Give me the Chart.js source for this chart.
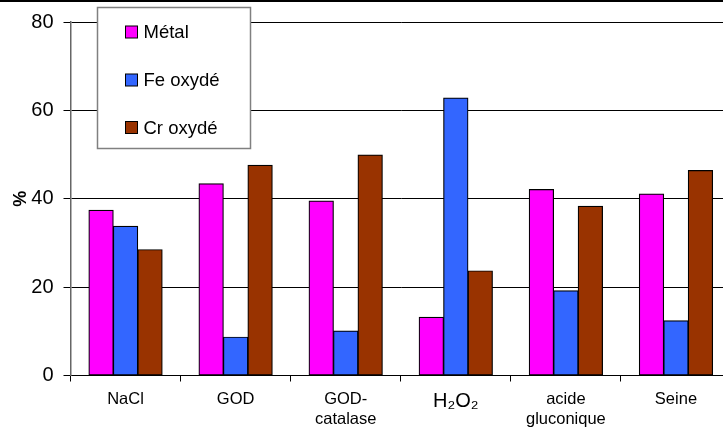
<!DOCTYPE html>
<html>
<head>
<meta charset="utf-8">
<script src="https://cdn.jsdelivr.net/npm/chart.js@4/dist/chart.umd.min.js"></script>
<style>
  html, body { margin: 0; padding: 0; background: #fff; overflow: hidden; width: 723px; height: 427px; }
  #wrap { position: relative; width: 723px; height: 427px; overflow: hidden; }
  #topline { position: absolute; left: 0; top: 0; width: 723px; height: 2px; background: #000; z-index: 2; }
  canvas { position: absolute; left: 0; top: 0; }
</style>
</head>
<body>
<div id="wrap">
  <div id="topline"></div>
  <canvas id="c" width="731" height="427"></canvas>
</div>
<script>
const categories = ["NaCl", "GOD", ["GOD-", "catalase"], "H₂O₂", ["acide", "gluconique"], "Seine"];
const seriesNames = ["Métal", "Fe oxydé", "Cr oxydé"];
const metal = [37.4, 43.4, 39.5, 13.2, 42.1, 41.1];
const feOxyde = [33.8, 8.7, 10.1, 62.8, 19.2, 12.4];
const crOxyde = [28.5, 47.6, 49.9, 23.7, 38.3, 46.4];
const yTicks = [0, 20, 40, 60, 80];
const colors = ["#FF00FF", "#3366FF", "#993300"];

const FONT = "Arial, 'Liberation Sans', sans-serif";

const legendBox = {
  id: 'legendBox',
  afterDraw(chart) {
    const ctx = chart.ctx;
    ctx.save();
    ctx.fillStyle = '#fff';
    ctx.fillRect(97.5, 7.5, 153, 141);
    ctx.strokeStyle = '#808080';
    ctx.lineWidth = 1.5;
    ctx.strokeRect(97.5, 7.5, 153, 141);
    const ys = [32, 80, 127.5];
    chart.data.datasets.forEach((ds, i) => {
      ctx.fillStyle = ds.backgroundColor;
      ctx.fillRect(125.5, ys[i] - 6, 12, 12);
      ctx.strokeStyle = '#000';
      ctx.lineWidth = 1;
      ctx.strokeRect(125.5, ys[i] - 6, 12, 12);
      ctx.fillStyle = '#000';
      ctx.font = "18.5px " + FONT;
      ctx.textBaseline = 'middle';
      ctx.textAlign = 'left';
      ctx.fillText(ds.label, 143.5, ys[i] + 1);
    });
    ctx.restore();
  }
};

new Chart(document.getElementById('c'), {
  type: 'bar',
  data: {
    labels: categories,
    datasets: [
      { label: seriesNames[0], data: metal, backgroundColor: colors[0] },
      { label: seriesNames[1], data: feOxyde, backgroundColor: colors[1] },
      { label: seriesNames[2], data: crOxyde, backgroundColor: colors[2] }
    ].map(d => Object.assign(d, { borderColor: '#000', borderWidth: 1.2, borderSkipped: false, inflateAmount: 0.4, categoryPercentage: 0.667, barPercentage: 1.0 }))
  },
  options: {
    responsive: false,
    animation: false,
    events: [],
    layout: { padding: { left: 0, right: 0, top: 22, bottom: 0 } },
    plugins: { legend: { display: false }, tooltip: { enabled: false } },
    scales: {
      x: {
        grid: { offset: true, drawOnChartArea: false, drawTicks: true, tickLength: 6, tickColor: '#000', lineWidth: 1 },
        border: { color: '#000', width: 1 },
        ticks: {
          color: '#000',
          padding: 8,
          maxRotation: 0,
          autoSkip: false,
          font: (ctx) => ctx.index === 3 ? { family: FONT, size: 20, lineHeight: 1.2 } : { family: FONT, size: 16.5, lineHeight: 1.22 }
        },
        afterFit(scale) { scale.height = 51.5; }
      },
      y: {
        min: 0, max: 80,
        afterBuildTicks(scale) { scale.ticks = yTicks.map(v => ({ value: v })); },
        grid: { color: '#000', lineWidth: 1, drawTicks: true, tickLength: 7, tickColor: '#000' },
        border: { color: '#666', width: 1.5 },
        ticks: { color: '#000', padding: 10, font: { family: FONT, size: 20 } },
        title: { display: true, text: '%', color: '#000', font: { family: FONT, size: 18, weight: 'bold' }, padding: { top: 10, bottom: 0 } },
        afterFit(scale) { scale.width = 70.5; }
      }
    }
  },
  plugins: [legendBox]
});
</script>
</body>
</html>
